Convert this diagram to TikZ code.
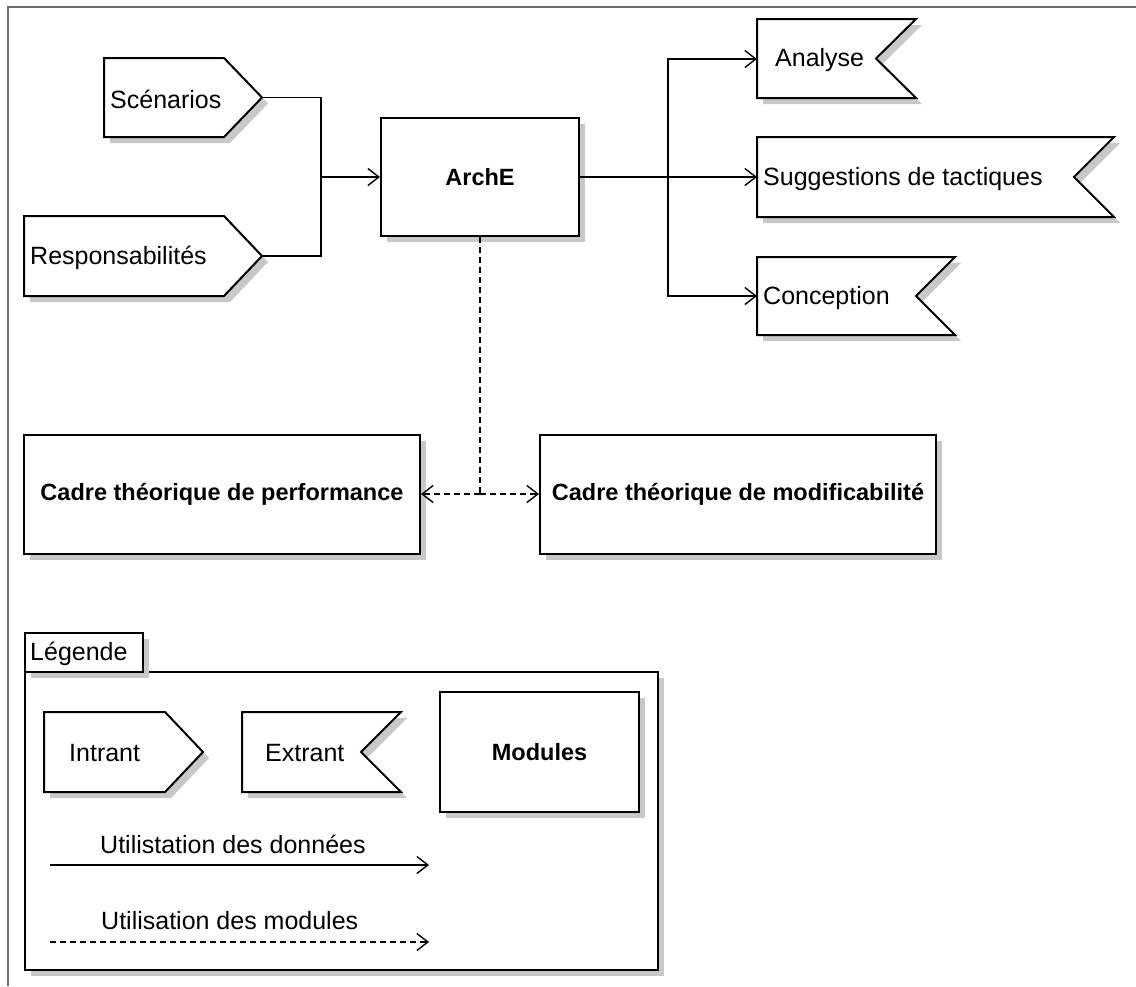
\documentclass[tikz,border=0pt]{standalone}
\usepackage{fontspec}
\setmainfont{Liberation Sans}
\usetikzlibrary{arrows.meta,shadows}
\definecolor{shadowgray}{RGB}{200,200,200}
\definecolor{framegray}{RGB}{110,110,110}
\begin{document}
\begin{tikzpicture}[x=1pt,y=-1pt,
  every node/.style={font=\fontsize{25}{29}\selectfont},
  shp/.style={draw=black, line width=2pt, fill=white,
    drop shadow={shadow xshift=6pt, shadow yshift=-6pt, fill=shadowgray, opacity=1}},
  box/.style={shp, rectangle, inner sep=0pt},
  lbl/.style={inner sep=0pt, anchor=west},
  bold/.style={font=\fontsize{23.5}{28}\selectfont\bfseries},
  conn/.style={line width=1.6pt, draw=black},
  arr/.style={conn, -{Straight Barb[length=11pt,width=17pt,line width=1.4pt]}},
  darr/.style={arr, dash pattern=on 6pt off 4pt},
  dline/.style={conn, dash pattern=on 6pt off 4pt}]
\useasboundingbox (0,0) rectangle (1136,986);
% outer frame (top and left edges)
\draw[framegray, line width=2pt] (8,986) -- (8,7) -- (1136,7);

% input / output shapes
\newcommand\inshape[5]{\path[shp] (#1,#2) -- (#4,#2) -- (#5,{(#2+#3)/2}) -- (#4,#3) -- (#1,#3) -- cycle;}
\newcommand\outshape[5]{\path[shp] (#1,#2) -- (#5,#2) -- (#4,{(#2+#3)/2}) -- (#5,#3) -- (#1,#3) -- cycle;}

\inshape{104}{58}{137}{224}{262}
\node[lbl] (scen) at (110,99) {Scénarios};
\coordinate (scentip) at (262,97.5);
\inshape{24}{216}{296}{224}{262}
\node[lbl] (resp) at (30,258) {Responsabilités};
\coordinate (resptip) at (262,256);

% ArchE
\node[box, bold, minimum width=198pt, minimum height=118pt] (arche) at (480,177) {ArchE};

% outputs
\outshape{757}{19}{98}{876}{916}
\node[lbl] (ana) at (775,60) {Analyse};
\coordinate (anain) at (757,59);
\outshape{757}{137}{217}{1074}{1114}
\node[lbl] (sug) at (763,179) {Suggestions de tactiques};
\coordinate (sugin) at (757,177);
\outshape{757}{257}{335}{916}{955}
\node[lbl] (con) at (763,298) {Conception};
\coordinate (conin) at (757,296);

% frameworks
\node[box, bold, minimum width=396pt, minimum height=119pt] (perf) at (222,494) {Cadre théorique de performance};
\node[box, bold, minimum width=396pt, minimum height=119pt] (modif) at (738,494) {Cadre théorique de modificabilité};

% connectors
\coordinate (jin) at (321,177);
\coordinate (jout) at (668,177);
\coordinate (jd) at (480,494);
\draw[conn] (scentip) -| (jin);
\draw[conn] (resptip) -| (jin);
\draw[arr] (jin) -- (arche.west);
\draw[arr] (arche.east) -- (sugin);
\draw[arr] (jout) |- (anain);
\draw[arr] (jout) |- (conin);
\draw[dline] (arche.south) -- (jd);
\draw[darr] (jd) -- (perf.east);
\draw[darr] (jd) -- (modif.west);

% legend
\node[box, minimum width=633pt, minimum height=298pt] (legbox) at (341.5,821) {};
\node[box, minimum width=118pt, minimum height=39pt] (legtab) at (84,652.5) {};
\node[lbl] (legtxt) at (30,654) {Légende};
\inshape{44}{712}{792}{165}{203}
\node[lbl] (intr) at (69,753) {Intrant};
\outshape{242}{712}{792}{361}{401}
\node[lbl] (extr) at (265,753) {Extrant};
\node[box, bold, minimum width=199pt, minimum height=120pt] (mods) at (539.5,752) {Modules};
\coordinate (l1a) at (50,865);
\coordinate (l1b) at (429,865);
\coordinate (l2a) at (50,942);
\coordinate (l2b) at (429,942);
\draw[arr] (l1a) -- (l1b);
\draw[darr] (l2a) -- (l2b);
\node[lbl] (t1) at (100,844) {Utilistation des données};
\node[lbl] (t2) at (101,921) {Utilisation des modules};
\end{tikzpicture}
\end{document}
